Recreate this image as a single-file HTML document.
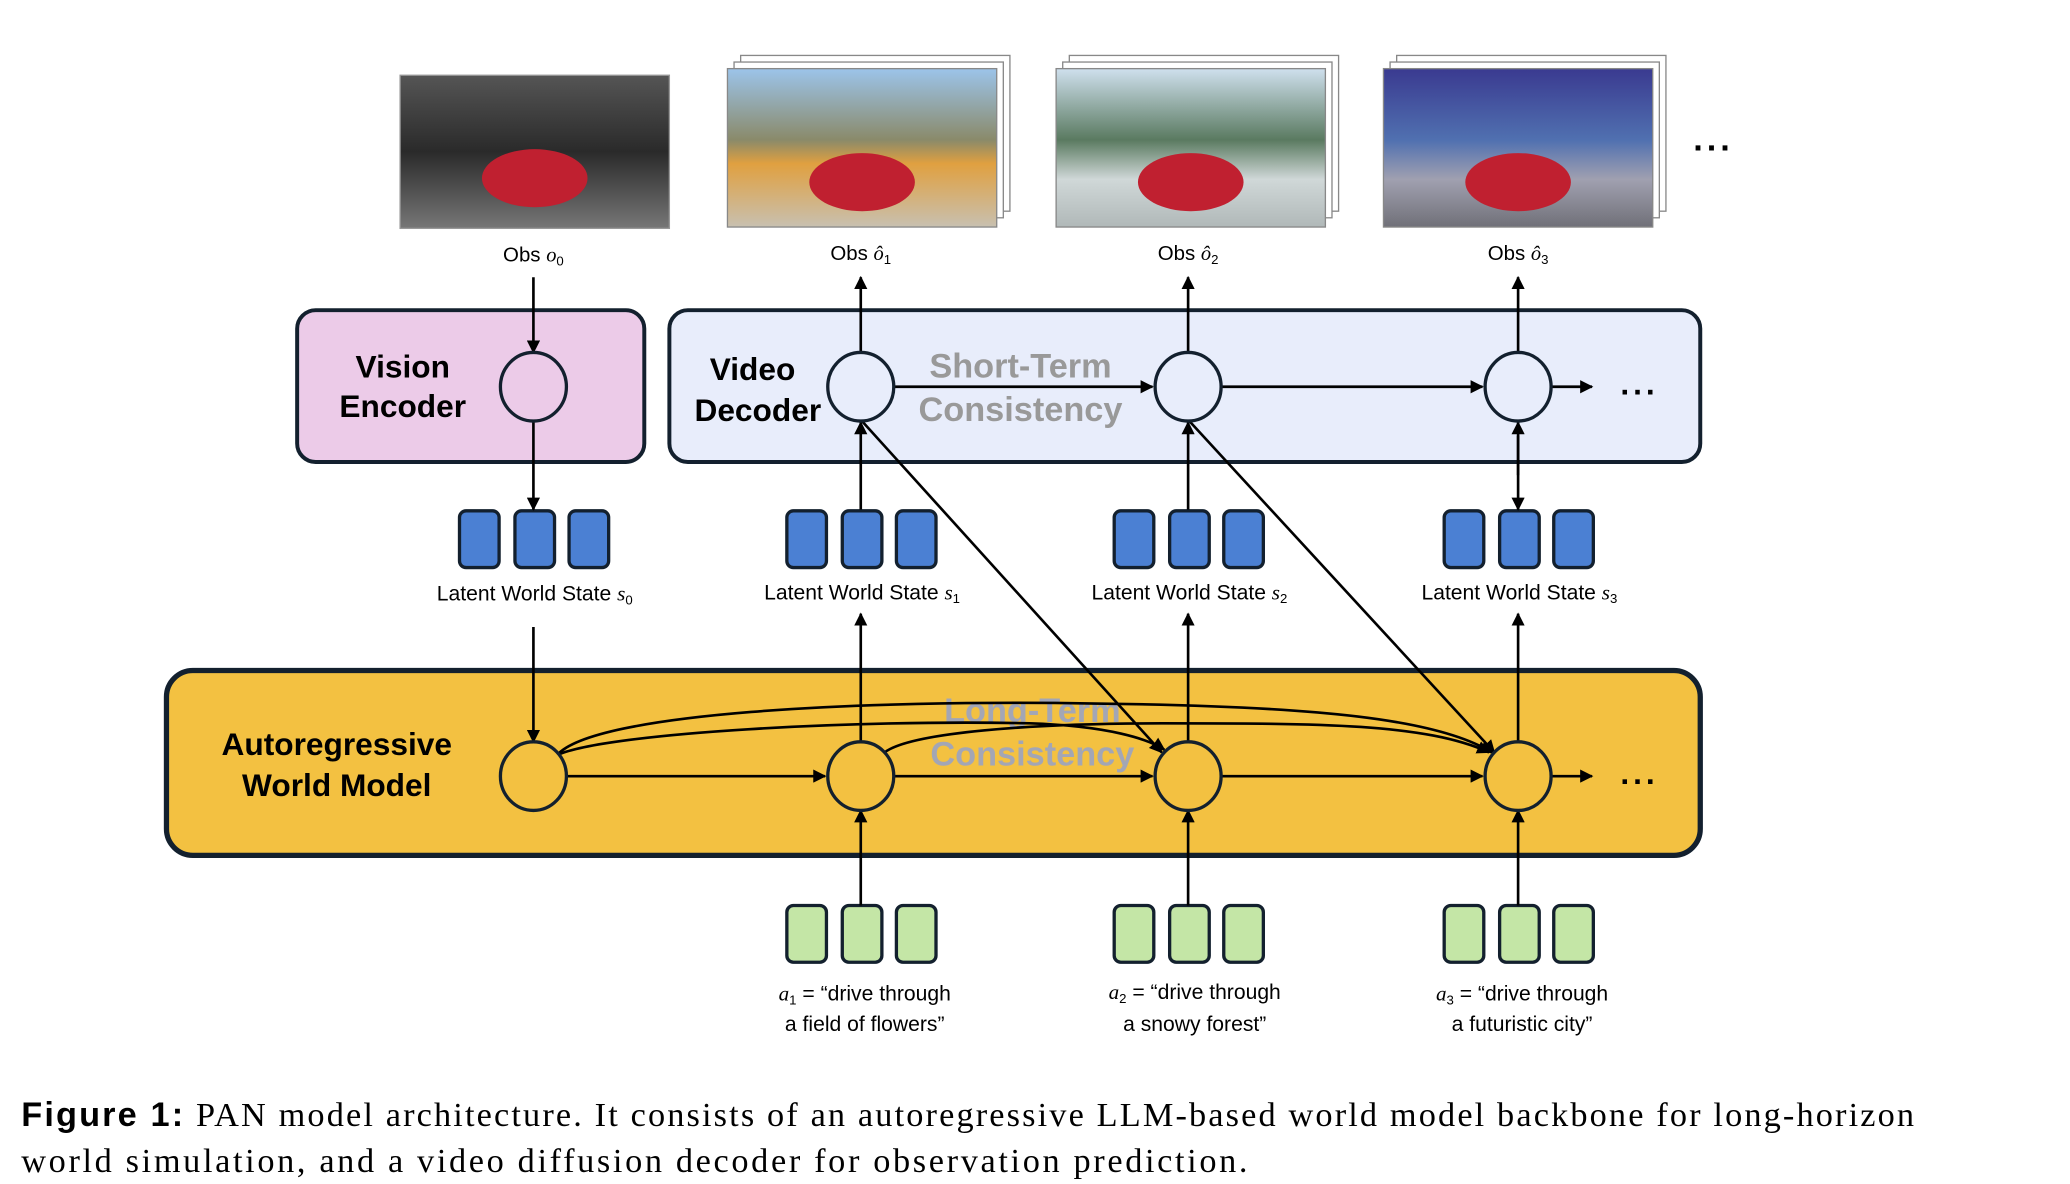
<!DOCTYPE html>
<html><head><meta charset="utf-8"><style>
html,body{margin:0;padding:0;background:#fff}
svg{display:block}
text{font-family:"Liberation Sans",sans-serif}
</style></head><body>
<svg width="2070" height="1184" viewBox="0 0 1568 897" xmlns="http://www.w3.org/2000/svg">
<defs>
<marker id="a" markerWidth="10" markerHeight="10" refX="9" refY="5" orient="auto" markerUnits="userSpaceOnUse"><path d="M0,0 L10,5 L0,10 z" fill="#000"/></marker>
<linearGradient id="g0" x1="0" y1="0" x2="0" y2="1"><stop offset="0" stop-color="#555"/><stop offset="0.5" stop-color="#2a2a2a"/><stop offset="1" stop-color="#777"/></linearGradient>
<linearGradient id="g1" x1="0" y1="0" x2="0" y2="1"><stop offset="0" stop-color="#9cc4ea"/><stop offset="0.45" stop-color="#8a8a6a"/><stop offset="0.6" stop-color="#e0a040"/><stop offset="1" stop-color="#c8c0b0"/></linearGradient>
<linearGradient id="g2" x1="0" y1="0" x2="0" y2="1"><stop offset="0" stop-color="#cfe0ee"/><stop offset="0.45" stop-color="#5a7a60"/><stop offset="0.7" stop-color="#d0d8d8"/><stop offset="1" stop-color="#b0b8b8"/></linearGradient>
<linearGradient id="g3" x1="0" y1="0" x2="0" y2="1"><stop offset="0" stop-color="#3a3a90"/><stop offset="0.45" stop-color="#5070b0"/><stop offset="0.7" stop-color="#a0a0b0"/><stop offset="1" stop-color="#707078"/></linearGradient>
</defs>

<rect x="303" y="57" width="204" height="116" fill="url(#g0)" stroke="#999"/>
<ellipse cx="405" cy="135" rx="40" ry="22" fill="#c02030"/>
<g>
<rect x="561" y="42" width="204" height="118" fill="#fff" stroke="#888"/>
<rect x="556" y="47" width="204" height="118" fill="#fff" stroke="#888"/>
<rect x="551" y="52" width="204" height="120" fill="url(#g1)" stroke="#888"/>
<ellipse cx="653" cy="138" rx="40" ry="22" fill="#c02030"/>
<rect x="810" y="42" width="204" height="118" fill="#fff" stroke="#888"/>
<rect x="805" y="47" width="204" height="118" fill="#fff" stroke="#888"/>
<rect x="800" y="52" width="204" height="120" fill="url(#g2)" stroke="#888"/>
<ellipse cx="902" cy="138" rx="40" ry="22" fill="#c02030"/>
<rect x="1058" y="42" width="204" height="118" fill="#fff" stroke="#888"/>
<rect x="1053" y="47" width="204" height="118" fill="#fff" stroke="#888"/>
<rect x="1048" y="52" width="204" height="120" fill="url(#g3)" stroke="#888"/>
<ellipse cx="1150" cy="138" rx="40" ry="22" fill="#c02030"/>
</g>
<text x="1298" y="114" font-size="26" font-weight="bold" text-anchor="middle" letter-spacing="3">...</text>

<g font-size="15.5" text-anchor="middle">
<text x="404" y="198">Obs <tspan font-style="italic" font-family="Liberation Serif">o</tspan><tspan font-size="10" dy="3">0</tspan></text>
<text x="652" y="197">Obs <tspan font-style="italic" font-family="Liberation Serif">ô</tspan><tspan font-size="10" dy="3">1</tspan></text>
<text x="900" y="197">Obs <tspan font-style="italic" font-family="Liberation Serif">ô</tspan><tspan font-size="10" dy="3">2</tspan></text>
<text x="1150" y="197">Obs <tspan font-style="italic" font-family="Liberation Serif">ô</tspan><tspan font-size="10" dy="3">3</tspan></text>
</g>

<rect x="225" y="235" width="263" height="115" rx="14" fill="#eccbe8" stroke="#13202e" stroke-width="3"/>
<rect x="507" y="235" width="781" height="115" rx="14" fill="#e8edfb" stroke="#13202e" stroke-width="3"/>
<rect x="126" y="508" width="1162" height="140" rx="20" fill="#f3c141" stroke="#13202e" stroke-width="4"/>

<g font-weight="bold" font-size="24" text-anchor="middle">
<text x="305" y="286">Vision</text><text x="305" y="316">Encoder</text>
<text x="570" y="288">Video</text><text x="574" y="319">Decoder</text>
<text x="255" y="572">Autoregressive</text><text x="255" y="603">World Model</text>
<text x="773" y="286" fill="#999" font-size="26">Short-Term</text><text x="773" y="319" fill="#999" font-size="26">Consistency</text>
<text x="782" y="547" fill="#a3a6b5" font-size="26">Long-Term</text><text x="782" y="580" fill="#a3a6b5" font-size="26">Consistency</text>
</g>

<g fill="#4b80d3" stroke="#13202e" stroke-width="2.5">
<rect x="348" y="387" width="30" height="43" rx="5"/><rect x="390" y="387" width="30" height="43" rx="5"/><rect x="431" y="387" width="30" height="43" rx="5"/>
<rect x="596" y="387" width="30" height="43" rx="5"/><rect x="638" y="387" width="30" height="43" rx="5"/><rect x="679" y="387" width="30" height="43" rx="5"/>
<rect x="844" y="387" width="30" height="43" rx="5"/><rect x="886" y="387" width="30" height="43" rx="5"/><rect x="927" y="387" width="30" height="43" rx="5"/>
<rect x="1094" y="387" width="30" height="43" rx="5"/><rect x="1136" y="387" width="30" height="43" rx="5"/><rect x="1177" y="387" width="30" height="43" rx="5"/>
</g>
<g fill="#c4e6a6" stroke="#13202e" stroke-width="2.5">
<rect x="596" y="686" width="30" height="43" rx="5"/><rect x="638" y="686" width="30" height="43" rx="5"/><rect x="679" y="686" width="30" height="43" rx="5"/>
<rect x="844" y="686" width="30" height="43" rx="5"/><rect x="886" y="686" width="30" height="43" rx="5"/><rect x="927" y="686" width="30" height="43" rx="5"/>
<rect x="1094" y="686" width="30" height="43" rx="5"/><rect x="1136" y="686" width="30" height="43" rx="5"/><rect x="1177" y="686" width="30" height="43" rx="5"/>
</g>
<g font-size="16" text-anchor="middle">
<text x="405" y="455">Latent World State <tspan font-style="italic" font-family="Liberation Serif">s</tspan><tspan font-size="10" dy="3">0</tspan></text>
<text x="653" y="454">Latent World State <tspan font-style="italic" font-family="Liberation Serif">s</tspan><tspan font-size="10" dy="3">1</tspan></text>
<text x="901" y="454">Latent World State <tspan font-style="italic" font-family="Liberation Serif">s</tspan><tspan font-size="10" dy="3">2</tspan></text>
<text x="1151" y="454">Latent World State <tspan font-style="italic" font-family="Liberation Serif">s</tspan><tspan font-size="10" dy="3">3</tspan></text>
<text x="655" y="758"><tspan font-style="italic" font-family="Liberation Serif">a</tspan><tspan font-size="10" dy="3">1</tspan><tspan dy="-3"> = “drive through</tspan></text><text x="655" y="781">a field of flowers”</text>
<text x="905" y="757"><tspan font-style="italic" font-family="Liberation Serif">a</tspan><tspan font-size="10" dy="3">2</tspan><tspan dy="-3"> = “drive through</tspan></text><text x="905" y="781">a snowy forest”</text>
<text x="1153" y="758"><tspan font-style="italic" font-family="Liberation Serif">a</tspan><tspan font-size="10" dy="3">3</tspan><tspan dy="-3"> = “drive through</tspan></text><text x="1153" y="781">a futuristic city”</text>
</g>

<g stroke="#000" stroke-width="2" fill="none" marker-end="url(#a)">
<line x1="404" y1="210" x2="404" y2="267"/>
<line x1="404" y1="319" x2="404" y2="386"/>
<line x1="404" y1="475" x2="404" y2="562"/>
<line x1="652" y1="267" x2="652" y2="210"/>
<line x1="900" y1="267" x2="900" y2="210"/>
<line x1="1150" y1="267" x2="1150" y2="210"/>
<line x1="652" y1="386" x2="652" y2="320"/>
<line x1="900" y1="386" x2="900" y2="320"/>
<line x1="1150" y1="360" x2="1150" y2="320"/>
<line x1="1150" y1="330" x2="1150" y2="386"/>
<line x1="677" y1="293" x2="873" y2="293"/>
<line x1="925" y1="293" x2="1123" y2="293"/>
<line x1="1175" y1="293" x2="1206" y2="293"/>
<line x1="652" y1="318" x2="880" y2="570"/>
<line x1="900" y1="318" x2="1132" y2="570"/>
<line x1="652" y1="562" x2="652" y2="465"/>
<line x1="900" y1="562" x2="900" y2="465"/>
<line x1="1150" y1="562" x2="1150" y2="465"/>
<line x1="429" y1="588" x2="625" y2="588"/>
<line x1="677" y1="588" x2="873" y2="588"/>
<line x1="925" y1="588" x2="1123" y2="588"/>
<line x1="1175" y1="588" x2="1206" y2="588"/>
<line x1="652" y1="686" x2="652" y2="614"/>
<line x1="900" y1="686" x2="900" y2="614"/>
<line x1="1150" y1="686" x2="1150" y2="614"/>
<path d="M422,572 C450,540 650,530 830,533 C1000,535 1090,545 1130,570"/>
<path d="M422,572 C460,555 650,545 780,548 C840,550 870,560 882,568"/>
<path d="M670,570 C690,555 780,548 880,548 C1000,548 1080,548 1128,570"/>
</g>
<g fill="#f3c141" stroke="#13202e" stroke-width="2.5">
<ellipse cx="404" cy="588" rx="25" ry="26"/><ellipse cx="652" cy="588" rx="25" ry="26"/><ellipse cx="900" cy="588" rx="25" ry="26"/><ellipse cx="1150" cy="588" rx="25" ry="26"/>
</g>
<ellipse cx="404" cy="293" rx="25" ry="26" fill="#eccbe8" stroke="#13202e" stroke-width="2.5"/>
<g fill="#e8edfb" stroke="#13202e" stroke-width="2.5">
<ellipse cx="652" cy="293" rx="25" ry="26"/><ellipse cx="900" cy="293" rx="25" ry="26"/><ellipse cx="1150" cy="293" rx="25" ry="26"/>
</g>
<text x="1242" y="299" font-size="24" font-weight="bold" text-anchor="middle" letter-spacing="3">...</text>
<text x="1242" y="594" font-size="24" font-weight="bold" text-anchor="middle" letter-spacing="3">...</text>

<text x="16" y="853" font-size="26" textLength="1434" lengthAdjust="spacing"><tspan font-weight="bold">Figure 1:</tspan><tspan style="font-family:'Liberation Serif',serif"> PAN model architecture. It consists of an autoregressive LLM-based world model backbone for long-horizon</tspan></text>
<text x="16" y="888" font-size="26" style="font-family:'Liberation Serif',serif" textLength="929" lengthAdjust="spacing">world simulation, and a video diffusion decoder for observation prediction.</text>
</svg>
</body></html>
